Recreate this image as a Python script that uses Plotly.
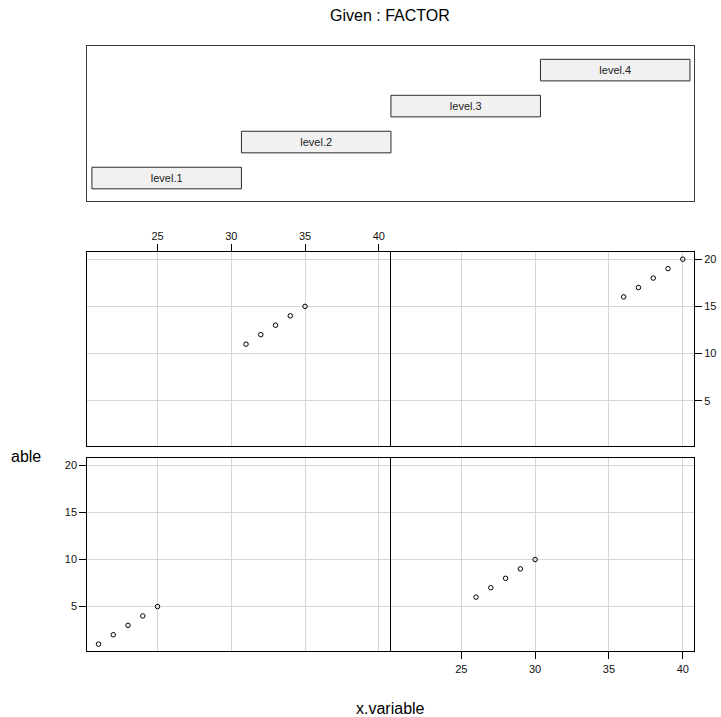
import plotly.graph_objects as go

# ---- data ----
factor_levels = ["level.1", "level.2", "level.3", "level.4"]
level_lo = [0.5, 1.5, 2.5, 3.5]
level_hi = [1.5, 2.5, 3.5, 4.5]

x_level1 = [21, 22, 23, 24, 25]
y_level1 = [1, 2, 3, 4, 5]
x_level2 = [26, 27, 28, 29, 30]
y_level2 = [6, 7, 8, 9, 10]
x_level3 = [31, 32, 33, 34, 35]
y_level3 = [11, 12, 13, 14, 15]
x_level4 = [36, 37, 38, 39, 40]
y_level4 = [16, 17, 18, 19, 20]

x_ticks = [25, 30, 35, 40]
y_ticks = [5, 10, 15, 20]

# ---- layout helpers (pixel -> paper) ----
W, H = 721, 717


def xdom(a, b):
    return [a / W, b / W]


def ydom(top, bottom):
    return [1 - bottom / H, 1 - top / H]


FONT = "Liberation Sans, Arial, sans-serif"
X_RANGE = [20.24, 40.76]
Y_RANGE = [0.24, 20.76]
GRID = "#d6d6d6"

fig = go.Figure()

# conditioning panel: one bar per factor level
fig.add_trace(go.Bar(
    y=[1, 2, 3, 4],
    x=[h - l for l, h in zip(level_lo, level_hi)],
    base=level_lo,
    orientation="h",
    width=0.6,
    marker=dict(color="#f1f1f1", line=dict(color="#2a2a2a", width=1)),
    text=factor_levels,
    textposition="inside",
    insidetextanchor="middle",
    textangle=0,
    constraintext="none",
    textfont=dict(family=FONT, size=11, color="#222222"),
    xaxis="x5", yaxis="y5",
    hoverinfo="skip",
    showlegend=False,
))

# scatter panels, one per level
panels = [
    (x_level1, y_level1, "x", "y"),
    (x_level2, y_level2, "x2", "y2"),
    (x_level3, y_level3, "x3", "y3"),
    (x_level4, y_level4, "x4", "y4"),
]
for xs, ys, xa, ya in panels:
    fig.add_trace(go.Scatter(
        x=xs, y=ys, mode="markers",
        marker=dict(symbol="circle-open", size=4.5, color="black",
                    line=dict(color="black", width=1)),
        xaxis=xa, yaxis=ya, showlegend=False,
    ))

tickfont = dict(family=FONT, size=11, color="#111111")


def xaxis(domain, anchor, side=None, labels=False):
    d = dict(domain=domain, anchor=anchor, range=X_RANGE,
             tickvals=x_ticks, showgrid=True, gridcolor=GRID, gridwidth=1,
             zeroline=False, showline=True, mirror=True,
             linecolor="black", linewidth=1,
             showticklabels=labels, ticks="outside" if labels else "",
             ticklen=7, tickcolor="black", tickwidth=1, tickfont=tickfont)
    if side:
        d["side"] = side
    return d


def yaxis(domain, anchor, side=None, labels=False):
    d = dict(domain=domain, anchor=anchor, range=Y_RANGE,
             tickvals=y_ticks, showgrid=True, gridcolor=GRID, gridwidth=1,
             zeroline=False, showline=True, mirror=True,
             linecolor="black", linewidth=1,
             showticklabels=labels, ticks="outside" if labels else "",
             ticklen=7, tickcolor="black", tickwidth=1, tickfont=tickfont)
    if side:
        d["side"] = side
    return d


LEFT = xdom(87.3, 390)
RIGHT = xdom(391, 694)
TOP = ydom(252, 445.7)
BOTTOM = ydom(458.3, 651.3)

fig.update_layout(
    width=W, height=H,
    margin=dict(l=0, r=0, t=0, b=0),
    paper_bgcolor="white", plot_bgcolor="white",
    font=dict(family=FONT, color="black"),
    showlegend=False,
    xaxis=xaxis(LEFT, "y"),
    yaxis=yaxis(BOTTOM, "x", side="left", labels=True),
    xaxis2=xaxis(RIGHT, "y2", side="bottom", labels=True),
    yaxis2=yaxis(BOTTOM, "x2"),
    xaxis3=xaxis(LEFT, "y3", side="top", labels=True),
    yaxis3=yaxis(TOP, "x3"),
    xaxis4=xaxis(RIGHT, "y4"),
    yaxis4=yaxis(TOP, "x4", side="right", labels=True),
    xaxis5=dict(domain=xdom(87.3, 694), anchor="y5", range=[0.469, 4.527],
                showgrid=False, zeroline=False, showticklabels=False,
                ticks="", showline=True, mirror=True,
                linecolor="#3a3a3a", linewidth=1),
    yaxis5=dict(domain=ydom(46, 200.7), anchor="x5", range=[0.37, 4.67],
                showgrid=False, zeroline=False, showticklabels=False,
                ticks="", showline=True, mirror=True,
                linecolor="#3a3a3a", linewidth=1),
    annotations=[
        dict(text="Given : FACTOR", x=390 / W, y=1 - 15 / H,
             xref="paper", yref="paper", showarrow=False,
             xanchor="center", yanchor="middle",
             font=dict(family=FONT, size=16, color="black")),
        dict(text="x.variable", x=390 / W, y=1 - 708 / H,
             xref="paper", yref="paper", showarrow=False,
             xanchor="center", yanchor="middle",
             font=dict(family=FONT, size=16, color="black")),
        # tail of the y-axis title, left of the lower-left panel
        dict(text="able", x=43 / W, y=1 - 456 / H,
             xref="paper", yref="paper", showarrow=False,
             xanchor="right", yanchor="middle",
             font=dict(family=FONT, size=16, color="black")),
    ],
)

fig.write_html("out.html")
